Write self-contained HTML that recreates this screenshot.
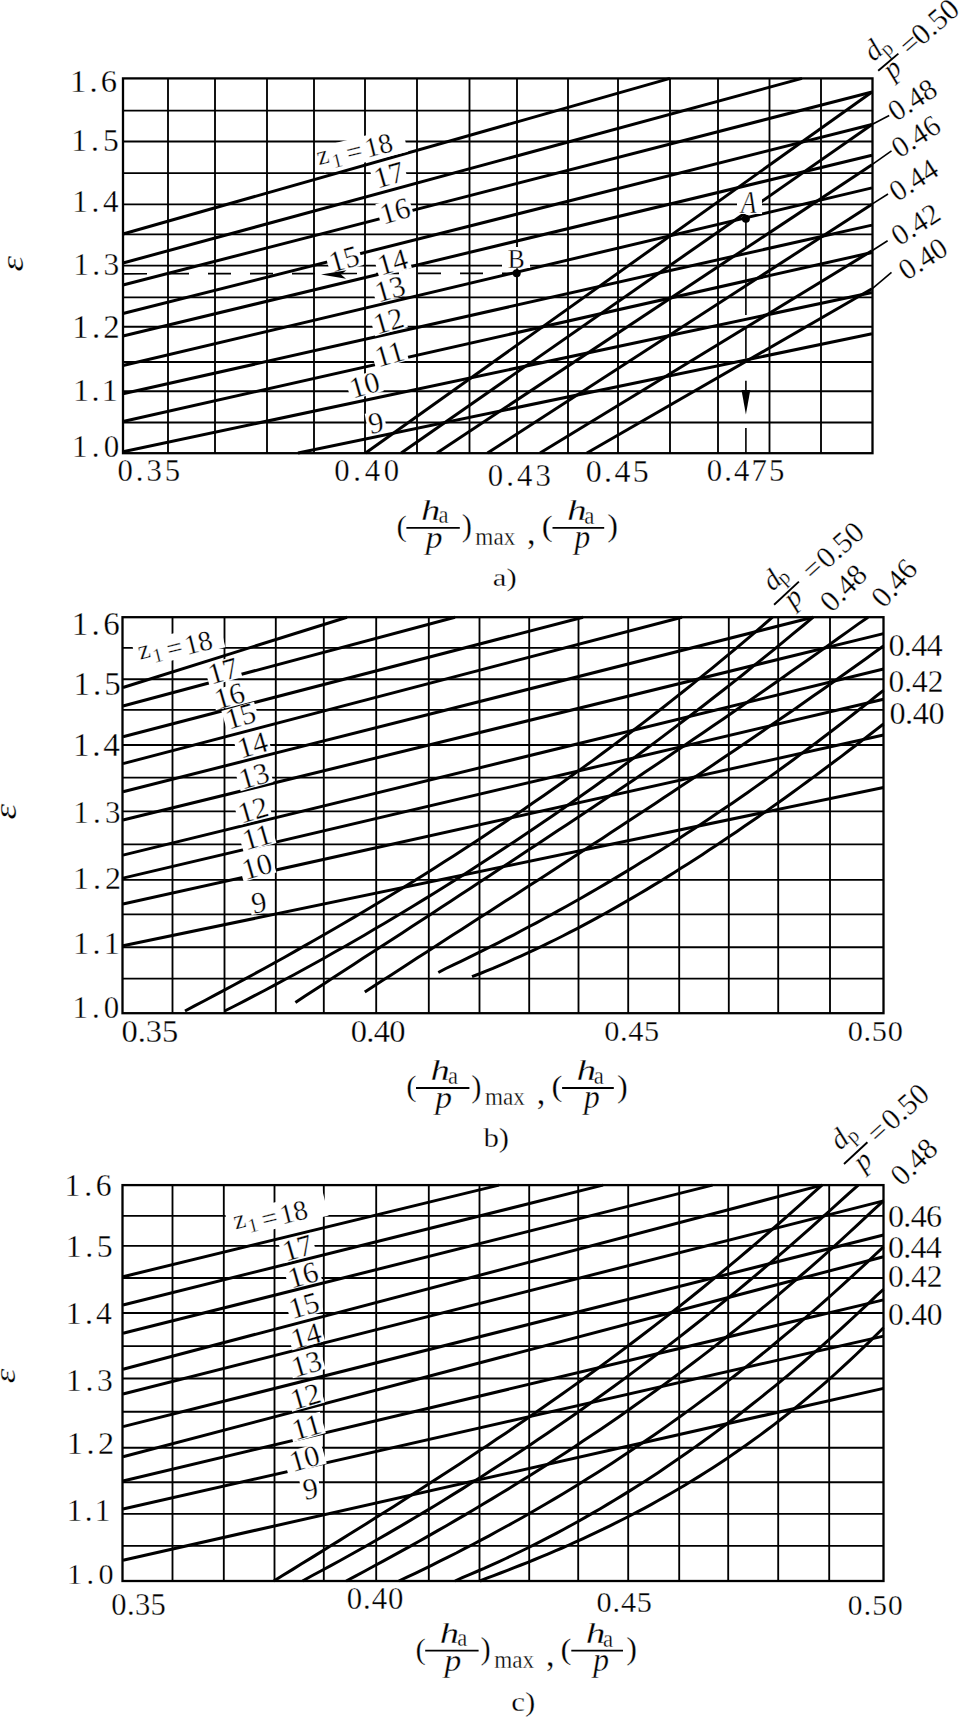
<!DOCTYPE html><html><head><meta charset="utf-8"><style>html,body{margin:0;padding:0;background:#fff;width:960px;height:1721px;overflow:hidden}svg{display:block}text{font-family:"Liberation Serif",serif;fill:#000;stroke:#fff;stroke-width:0.3px;vector-effect:non-scaling-stroke}</style></head><body>
<svg width="960" height="1721" viewBox="0 0 960 1721">
<rect width="960" height="1721" fill="#fff"/>
<g stroke="#000" stroke-width="1.85"><line x1="168.0" y1="78.4" x2="168.0" y2="453.2"/><line x1="215.0" y1="78.4" x2="215.0" y2="453.2"/><line x1="267.0" y1="78.4" x2="267.0" y2="453.2"/><line x1="314.0" y1="78.4" x2="314.0" y2="453.2"/><line x1="365.0" y1="78.4" x2="365.0" y2="453.2"/><line x1="417.0" y1="78.4" x2="417.0" y2="453.2"/><line x1="469.5" y1="78.4" x2="469.5" y2="453.2"/><line x1="517.0" y1="78.4" x2="517.0" y2="453.2"/><line x1="568.0" y1="78.4" x2="568.0" y2="453.2"/><line x1="618.0" y1="78.4" x2="618.0" y2="453.2"/><line x1="670.0" y1="78.4" x2="670.0" y2="453.2"/><line x1="718.0" y1="78.4" x2="718.0" y2="453.2"/><line x1="769.5" y1="78.4" x2="769.5" y2="453.2"/><line x1="821.0" y1="78.4" x2="821.0" y2="453.2"/><line x1="123.0" y1="110.6" x2="872.5" y2="110.6"/><line x1="123.0" y1="141.5" x2="872.5" y2="141.5"/><line x1="123.0" y1="173.1" x2="872.5" y2="173.1"/><line x1="123.0" y1="204.4" x2="872.5" y2="204.4"/><line x1="123.0" y1="234.4" x2="872.5" y2="234.4"/><line x1="123.0" y1="265.6" x2="872.5" y2="265.6"/><line x1="123.0" y1="297.3" x2="872.5" y2="297.3"/><line x1="123.0" y1="326.7" x2="872.5" y2="326.7"/><line x1="123.0" y1="362.0" x2="872.5" y2="362.0"/><line x1="123.0" y1="391.2" x2="872.5" y2="391.2"/><line x1="123.0" y1="422.5" x2="872.5" y2="422.5"/></g>
<rect x="123.0" y="78.4" width="749.5" height="374.8" fill="none" stroke="#000" stroke-width="2.30"/>
<line x1="124" y1="273.8" x2="517" y2="273.3" stroke="#000" stroke-width="1.7" stroke-dasharray="23,19"/>
<g stroke="#000" stroke-width="3.00" fill="none" stroke-linecap="butt"><path d="M123.0,234.0 L670.0,78.4"/><path d="M123.0,263.0 L802.0,78.4"/><path d="M123.0,285.0 L872.0,92.0"/><path d="M123.0,313.5 L872.0,124.5"/><path d="M123.0,336.0 L872.0,155.3"/><path d="M123.0,365.5 L872.0,187.9"/><path d="M123.0,393.8 L872.0,225.1"/><path d="M123.0,421.5 L872.0,252.5"/><path d="M123.0,451.7 L872.0,292.5"/><path d="M298.0,453.0 L872.0,333.8"/></g>
<g stroke="#000" stroke-width="3.00" fill="none" stroke-linecap="butt"><path d="M365.6,453.0 L872.0,92.0"/><path d="M401.2,453.0 L872.0,124.5"/><path d="M436.9,453.0 L872.0,164.7"/><path d="M487.5,453.0 L872.0,204.2"/><path d="M540.0,453.0 L872.0,250.7"/><path d="M586.9,453.0 L872.0,288.8"/></g>
<rect x="-43.0" y="-13.0" width="86.0" height="26.0" fill="#fff" transform="translate(363.1 149.5) rotate(-14.0)"/>
<text transform="translate(323.10 157.80) rotate(-14.00)" x="-5.94" y="6.21" font-size="27.00">z</text>
<text transform="translate(337.50 160.60) rotate(-14.00)" x="-5.30" y="6.60" font-size="20.00">1</text>
<text transform="translate(354.10 151.60) rotate(-14.00)" x="-7.91" y="9.24" font-size="28.00">=</text>
<text transform="translate(379.20 145.20) rotate(-14.00)" x="-14.70" y="9.17" font-size="28.00">18</text>
<rect x="-17.0" y="-12.0" width="34.0" height="24.0" fill="#fff" transform="translate(389.0 175.0) rotate(-16.0)"/>
<text transform="translate(389.0 175.0) rotate(-16.0)" font-size="30.0" text-anchor="middle" y="9.9">17</text>
<rect x="-17.0" y="-12.0" width="34.0" height="24.0" fill="#fff" transform="translate(395.0 211.0) rotate(-16.0)"/>
<text transform="translate(395.0 211.0) rotate(-16.0)" font-size="30.0" text-anchor="middle" y="9.9">16</text>
<rect x="-17.0" y="-11.0" width="34.0" height="22.0" fill="#fff" transform="translate(344.0 259.0) rotate(-16.0)"/>
<text transform="translate(344.0 259.0) rotate(-16.0)" font-size="30.0" text-anchor="middle" y="9.9">15</text>
<rect x="-17.0" y="-11.0" width="34.0" height="22.0" fill="#fff" transform="translate(392.5 262.0) rotate(-16.0)"/>
<text transform="translate(392.5 262.0) rotate(-16.0)" font-size="30.0" text-anchor="middle" y="9.9">14</text>
<rect x="-17.0" y="-10.0" width="34.0" height="20.0" fill="#fff" transform="translate(390.0 289.0) rotate(-16.0)"/>
<text transform="translate(390.0 289.0) rotate(-16.0)" font-size="30.0" text-anchor="middle" y="9.9">13</text>
<rect x="-17.0" y="-11.0" width="34.0" height="22.0" fill="#fff" transform="translate(388.5 321.0) rotate(-16.0)"/>
<text transform="translate(388.5 321.0) rotate(-16.0)" font-size="30.0" text-anchor="middle" y="9.9">12</text>
<rect x="-17.0" y="-11.0" width="34.0" height="22.0" fill="#fff" transform="translate(389.5 354.0) rotate(-16.0)"/>
<text transform="translate(389.5 354.0) rotate(-16.0)" font-size="30.0" text-anchor="middle" y="9.9">11</text>
<rect x="-17.0" y="-11.0" width="34.0" height="22.0" fill="#fff" transform="translate(364.4 385.0) rotate(-16.0)"/>
<text transform="translate(364.4 385.0) rotate(-16.0)" font-size="30.0" text-anchor="middle" y="9.9">10</text>
<rect x="-9.5" y="-11.0" width="19.0" height="22.0" fill="#fff" transform="translate(376.0 423.0) rotate(-10.0)"/>
<text transform="translate(376.0 423.0) rotate(-10.0)" font-size="30.0" text-anchor="middle" y="9.9">9</text>
<circle cx="516.7" cy="273.3" r="4" fill="#000"/>
<circle cx="745.9" cy="218.8" r="4" fill="#000"/>
<rect x="502" y="247" width="28" height="21" fill="#fff"/>
<rect x="737" y="190" width="25" height="24" fill="#fff"/>
<text transform="matrix(0.2542 0 0 0.2682 507.74 267.87)" font-size="100" >B</text>
<text transform="matrix(0.2507 0 0 0.3076 740.88 212.90)" font-size="100" font-style="italic" >A</text>
<line x1="745.9" y1="218.8" x2="745.9" y2="247.5" stroke="#000" stroke-width="1.6"/>
<line x1="745.9" y1="257.6" x2="745.9" y2="315.0" stroke="#000" stroke-width="1.6"/>
<line x1="745.9" y1="328.4" x2="745.9" y2="358.8" stroke="#000" stroke-width="1.6"/>
<line x1="745.9" y1="380.7" x2="745.9" y2="400.0" stroke="#000" stroke-width="1.6"/>
<line x1="745.9" y1="428.0" x2="745.9" y2="453.0" stroke="#000" stroke-width="1.6"/>
<path d="M741.5,390 L750.3,390 L745.9,414.4 Z" fill="#000"/>
<path d="M321,274.4 L346.5,270.3 L341,274.4 L346,278.8 Z" fill="#000"/>
<text transform="translate(872.80 49.75) rotate(-41.00)" x="-7.69" y="9.93" font-size="29.00" font-style="italic">d</text>
<text transform="translate(889.00 52.00) rotate(-41.00)" x="-4.99" y="2.68" font-size="21.00">p</text>
<line x1="878.2" y1="70.8" x2="898.4" y2="53.6" stroke="#000" stroke-width="1.9"/>
<text transform="translate(894.60 73.50) rotate(-41.00)" x="-5.94" y="3.70" font-size="29.00" font-style="italic">p</text>
<text transform="translate(910.00 44.00) rotate(-41.00)" x="-8.48" y="9.90" font-size="30.00">=</text>
<text transform="translate(935.20 21.80) rotate(-41.00)" x="-26.25" y="9.75" font-size="30.00">0.50</text>
<text transform="translate(912.50 100.00) rotate(-33.00)" x="-25.81" y="9.59" font-size="29.50">0.48</text>
<line x1="872.0" y1="124.5" x2="889.2" y2="115.5" stroke="#000" stroke-width="1.6"/>
<text transform="translate(916.00 136.50) rotate(-33.00)" x="-25.96" y="9.59" font-size="29.50">0.46</text>
<line x1="872.0" y1="164.7" x2="891.5" y2="150.8" stroke="#000" stroke-width="1.6"/>
<text transform="translate(914.00 180.00) rotate(-33.00)" x="-26.18" y="9.59" font-size="29.50">0.44</text>
<line x1="872.0" y1="204.2" x2="888.0" y2="194.0" stroke="#000" stroke-width="1.6"/>
<text transform="translate(915.60 224.50) rotate(-33.00)" x="-25.59" y="9.59" font-size="29.50">0.42</text>
<line x1="872.0" y1="250.7" x2="887.6" y2="240.8" stroke="#000" stroke-width="1.6"/>
<text transform="translate(923.00 259.00) rotate(-33.00)" x="-25.81" y="9.59" font-size="29.50">0.40</text>
<line x1="872.0" y1="288.8" x2="891.5" y2="272.3" stroke="#000" stroke-width="1.6"/>
<text x="70.1" y="91.5" font-size="32.59" letter-spacing="3.09" >1.6</text>
<text x="71.2" y="151.4" font-size="31.56" letter-spacing="4.08" >1.5</text>
<text x="72.2" y="211.5" font-size="31.11" letter-spacing="3.69" >1.4</text>
<text x="73.2" y="274.5" font-size="31.41" letter-spacing="3.41" >1.3</text>
<text x="72.3" y="337.5" font-size="32.89" letter-spacing="3.18" >1.2</text>
<text x="73.1" y="400.9" font-size="32.15" letter-spacing="2.32" >1.1</text>
<text x="71.9" y="457.2" font-size="31.03" letter-spacing="4.27" >1.0</text>
<text x="117.5" y="481.2" font-size="30.74" letter-spacing="2.97" >0.35</text>
<text x="334.2" y="481.2" font-size="30.74" letter-spacing="3.72" >0.40</text>
<text x="487.8" y="486.2" font-size="30.74" letter-spacing="3.09" >0.43</text>
<text x="585.7" y="482.0" font-size="31.91" letter-spacing="2.40" >0.45</text>
<text x="706.8" y="481.2" font-size="30.74" letter-spacing="2.08" >0.475</text>
<text transform="matrix(0 -0.3973 0.3188 0 22.78 271.39)" font-size="100" font-style="italic">ε</text>
<text transform="matrix(0.3098 0 0 0.3033 396.61 536.28)" font-size="100" >(</text>
<text transform="matrix(0.3859 0 0 0.2964 420.95 519.80)" font-size="100" font-style="italic" >h</text>
<text transform="matrix(0.2253 0 0 0.2437 438.51 523.36)" font-size="100" >a</text>
<text transform="matrix(0.3358 0 0 0.3080 425.72 547.88)" font-size="100" font-style="italic" >p</text>
<text transform="matrix(0.3077 0 0 0.3067 461.68 536.36)" font-size="100" >)</text>
<text transform="matrix(0.2320 0 0 0.2604 475.34 544.74)" font-size="100" >max</text>
<text transform="matrix(0.3448 0 0 0.3529 527.12 543.51)" font-size="100" >,</text>
<text transform="matrix(0.3294 0 0 0.3033 541.82 536.28)" font-size="100" >(</text>
<text transform="matrix(0.3929 0 0 0.2878 566.92 520.00)" font-size="100" font-style="italic" >h</text>
<text transform="matrix(0.2278 0 0 0.2458 584.20 524.05)" font-size="100" >a</text>
<text transform="matrix(0.3151 0 0 0.3285 574.39 548.24)" font-size="100" font-style="italic" >p</text>
<text transform="matrix(0.3231 0 0 0.3067 607.33 536.36)" font-size="100" >)</text>
<line x1="406.4" y1="527.8" x2="459.8" y2="527.8" stroke="#000" stroke-width="1.8"/>
<line x1="552.5" y1="527.8" x2="604.2" y2="527.8" stroke="#000" stroke-width="1.8"/>
<text transform="matrix(0.3086 0 0 0.2567 492.72 586.21)" font-size="100" >a)</text>
<g stroke="#000" stroke-width="1.85"><line x1="172.5" y1="617.2" x2="172.5" y2="1013.3"/><line x1="224.5" y1="617.2" x2="224.5" y2="1013.3"/><line x1="275.8" y1="617.2" x2="275.8" y2="1013.3"/><line x1="323.8" y1="617.2" x2="323.8" y2="1013.3"/><line x1="376.2" y1="617.2" x2="376.2" y2="1013.3"/><line x1="428.8" y1="617.2" x2="428.8" y2="1013.3"/><line x1="479.5" y1="617.2" x2="479.5" y2="1013.3"/><line x1="529.2" y1="617.2" x2="529.2" y2="1013.3"/><line x1="578.5" y1="617.2" x2="578.5" y2="1013.3"/><line x1="628.2" y1="617.2" x2="628.2" y2="1013.3"/><line x1="679.2" y1="617.2" x2="679.2" y2="1013.3"/><line x1="728.8" y1="617.2" x2="728.8" y2="1013.3"/><line x1="778.2" y1="617.2" x2="778.2" y2="1013.3"/><line x1="830.0" y1="617.2" x2="830.0" y2="1013.3"/><line x1="122.5" y1="647.9" x2="883.5" y2="647.9"/><line x1="122.5" y1="679.2" x2="883.5" y2="679.2"/><line x1="122.5" y1="709.9" x2="883.5" y2="709.9"/><line x1="122.5" y1="745.0" x2="883.5" y2="745.0"/><line x1="122.5" y1="777.6" x2="883.5" y2="777.6"/><line x1="122.5" y1="811.3" x2="883.5" y2="811.3"/><line x1="122.5" y1="844.4" x2="883.5" y2="844.4"/><line x1="122.5" y1="879.8" x2="883.5" y2="879.8"/><line x1="122.5" y1="914.4" x2="883.5" y2="914.4"/><line x1="122.5" y1="947.2" x2="883.5" y2="947.2"/><line x1="122.5" y1="978.6" x2="883.5" y2="978.6"/></g>
<rect x="122.5" y="617.2" width="761.0" height="396.0" fill="none" stroke="#000" stroke-width="2.30"/>
<g stroke="#000" stroke-width="3.00" fill="none" stroke-linecap="butt"><path d="M123.0,687.5 L347.0,617.2"/><path d="M123.0,706.0 L455.0,617.2"/><path d="M123.0,736.7 L583.0,617.2"/><path d="M123.0,763.6 L682.0,617.2"/><path d="M123.0,791.7 L813.0,617.2"/><path d="M123.0,820.0 L883.5,633.6"/><path d="M123.0,855.1 L883.5,669.0"/><path d="M123.0,878.1 L883.5,699.2"/><path d="M123.0,904.0 L883.5,735.0"/><path d="M123.0,945.8 L883.5,787.5"/></g>
<g stroke="#000" stroke-width="3.00" fill="none" stroke-linejoin="round"><path d="M185.0,1011.0 L195.0,1005.7 L204.9,1000.5 L214.9,995.2 L224.8,989.9 L234.8,984.5 L244.7,979.1 L254.7,973.7 L264.7,968.2 L274.6,962.7 L284.6,957.2 L294.5,951.6 L304.5,945.9 L314.4,940.3 L324.4,934.5 L334.4,928.8 L344.3,923.0 L354.3,917.1 L364.2,911.2 L374.2,905.2 L384.2,899.2 L394.1,893.2 L404.1,887.1 L414.0,880.9 L424.0,874.7 L433.9,868.4 L443.9,862.1 L453.9,855.7 L463.8,849.3 L473.8,842.8 L483.7,836.2 L493.7,829.6 L503.6,823.0 L513.6,816.2 L523.6,809.4 L533.5,802.6 L543.5,795.7 L553.4,788.7 L563.4,781.7 L573.3,774.5 L583.3,767.4 L593.3,760.1 L603.2,752.8 L613.2,745.4 L623.1,738.0 L633.1,730.5 L643.1,722.9 L653.0,715.2 L663.0,707.5 L672.9,699.6 L682.9,691.7 L692.8,683.8 L702.8,675.7 L712.8,667.6 L722.7,659.4 L732.7,651.1 L742.6,642.8 L752.6,634.3 L762.5,625.8 L772.5,617.2"/><path d="M224.6,1011.0 L234.6,1006.0 L244.6,1000.9 L254.5,995.7 L264.5,990.5 L274.5,985.2 L284.5,979.8 L294.4,974.5 L304.4,969.0 L314.4,963.5 L324.4,958.0 L334.3,952.3 L344.3,946.7 L354.3,941.0 L364.3,935.2 L374.2,929.3 L384.2,923.5 L394.2,917.5 L404.2,911.5 L414.1,905.5 L424.1,899.4 L434.1,893.2 L444.1,887.0 L454.1,880.7 L464.0,874.4 L474.0,868.0 L484.0,861.5 L494.0,855.0 L503.9,848.5 L513.9,841.9 L523.9,835.2 L533.9,828.5 L543.8,821.7 L553.8,814.9 L563.8,808.0 L573.8,801.0 L583.7,794.0 L593.7,787.0 L603.7,779.8 L613.7,772.7 L623.7,765.4 L633.6,758.1 L643.6,750.8 L653.6,743.4 L663.6,735.9 L673.5,728.4 L683.5,720.8 L693.5,713.2 L703.5,705.5 L713.4,697.8 L723.4,690.0 L733.4,682.1 L743.4,674.2 L753.3,666.2 L763.3,658.2 L773.3,650.1 L783.3,641.9 L793.2,633.7 L803.2,625.5 L813.2,617.2"/><path d="M295.4,1002.5 L305.1,996.0 L314.8,989.7 L324.5,983.4 L334.2,977.1 L343.9,970.8 L353.6,964.5 L363.3,958.1 L373.1,951.8 L382.8,945.5 L392.5,939.2 L402.2,932.9 L411.9,926.5 L421.6,920.2 L431.3,913.9 L441.0,907.5 L450.7,901.2 L460.4,894.8 L470.1,888.4 L479.8,882.1 L489.5,875.7 L499.2,869.3 L508.9,862.9 L518.7,856.5 L528.4,850.1 L538.1,843.7 L547.8,837.2 L557.5,830.8 L567.2,824.4 L576.9,817.9 L586.6,811.4 L596.3,804.9 L606.0,798.4 L615.7,791.9 L625.4,785.4 L635.1,778.9 L644.8,772.3 L654.6,765.8 L664.3,759.2 L674.0,752.6 L683.7,746.0 L693.4,739.3 L703.1,732.7 L712.8,726.1 L722.5,719.4 L732.2,712.7 L741.9,706.0 L751.6,699.2 L761.3,692.5 L771.0,685.7 L780.7,678.9 L790.4,672.1 L800.2,665.3 L809.9,658.5 L819.6,651.6 L829.3,644.7 L839.0,637.8 L848.7,630.9 L858.4,623.9 L868.1,617.2"/><path d="M364.8,992.0 L373.6,986.3 L382.4,980.6 L391.2,974.9 L400.0,969.2 L408.8,963.5 L417.5,957.8 L426.3,952.2 L435.1,946.5 L443.9,940.8 L452.7,935.1 L461.5,929.5 L470.3,923.8 L479.1,918.1 L487.9,912.5 L496.7,906.8 L505.5,901.1 L514.3,895.4 L523.0,889.8 L531.8,884.1 L540.6,878.4 L549.4,872.7 L558.2,867.0 L567.0,861.3 L575.8,855.6 L584.6,849.8 L593.4,844.1 L602.2,838.4 L611.0,832.6 L619.8,826.8 L628.5,821.1 L637.3,815.3 L646.1,809.5 L654.9,803.7 L663.7,797.8 L672.5,792.0 L681.3,786.1 L690.1,780.3 L698.9,774.4 L707.7,768.5 L716.5,762.6 L725.3,756.6 L734.0,750.7 L742.8,744.7 L751.6,738.7 L760.4,732.7 L769.2,726.6 L778.0,720.6 L786.8,714.5 L795.6,708.4 L804.4,702.3 L813.2,696.1 L822.0,689.9 L830.8,683.7 L839.5,677.5 L848.3,671.3 L857.1,665.0 L865.9,658.7 L874.7,652.3 L883.5,646.0"/><path d="M438.3,972.5 L445.8,968.5 L453.4,964.9 L460.9,961.3 L468.5,957.6 L476.0,953.9 L483.6,950.2 L491.1,946.4 L498.7,942.6 L506.2,938.7 L513.8,934.8 L521.3,930.8 L528.8,926.8 L536.4,922.8 L543.9,918.7 L551.5,914.6 L559.0,910.4 L566.6,906.2 L574.1,902.0 L581.7,897.7 L589.2,893.4 L596.8,889.0 L604.3,884.6 L611.9,880.1 L619.4,875.6 L626.9,871.1 L634.5,866.5 L642.0,861.8 L649.6,857.2 L657.1,852.5 L664.7,847.7 L672.2,842.9 L679.8,838.0 L687.3,833.1 L694.9,828.2 L702.4,823.2 L709.9,818.2 L717.5,813.1 L725.0,808.0 L732.6,802.9 L740.1,797.7 L747.7,792.4 L755.2,787.1 L762.8,781.8 L770.3,776.4 L777.9,771.0 L785.4,765.5 L793.0,760.0 L800.5,754.4 L808.0,748.8 L815.6,743.2 L823.1,737.5 L830.7,731.7 L838.2,726.0 L845.8,720.1 L853.3,714.2 L860.9,708.3 L868.4,702.3 L876.0,696.3 L883.5,690.3"/><path d="M472.0,976.7 L479.0,974.0 L485.9,971.1 L492.9,968.3 L499.9,965.3 L506.9,962.3 L513.8,959.2 L520.8,956.1 L527.8,952.9 L534.8,949.7 L541.7,946.3 L548.7,942.9 L555.7,939.5 L562.7,936.0 L569.6,932.4 L576.6,928.8 L583.6,925.1 L590.6,921.4 L597.5,917.6 L604.5,913.8 L611.5,909.9 L618.5,905.9 L625.4,901.9 L632.4,897.9 L639.4,893.8 L646.4,889.6 L653.3,885.4 L660.3,881.2 L667.3,876.9 L674.3,872.5 L681.2,868.1 L688.2,863.7 L695.2,859.2 L702.2,854.7 L709.1,850.1 L716.1,845.5 L723.1,840.8 L730.1,836.1 L737.0,831.4 L744.0,826.6 L751.0,821.8 L758.0,817.0 L764.9,812.1 L771.9,807.1 L778.9,802.2 L785.9,797.2 L792.8,792.2 L799.8,787.1 L806.8,782.0 L813.8,776.9 L820.7,771.7 L827.7,766.5 L834.7,761.3 L841.7,756.1 L848.6,750.8 L855.6,745.5 L862.6,740.1 L869.6,734.8 L876.5,729.4 L883.5,724.0"/></g>
<rect x="-45.0" y="-13.0" width="90.0" height="26.0" fill="#fff" transform="translate(178.6 645.5) rotate(-14.0)"/>
<text transform="translate(144.25 652.30) rotate(-14.00)" x="-5.94" y="6.21" font-size="27.00">z</text>
<text transform="translate(158.00 655.40) rotate(-14.00)" x="-5.30" y="6.60" font-size="20.00">1</text>
<text transform="translate(174.40 647.85) rotate(-14.00)" x="-7.91" y="9.24" font-size="28.00">=</text>
<text transform="translate(199.00 642.65) rotate(-14.00)" x="-14.70" y="9.17" font-size="28.00">18</text>
<rect x="-17.0" y="-11.0" width="34.0" height="22.0" fill="#fff" transform="translate(223.0 671.0) rotate(-16.0)"/>
<text transform="translate(223.0 671.0) rotate(-16.0)" font-size="30.0" text-anchor="middle" y="9.9">17</text>
<rect x="-17.0" y="-10.0" width="34.0" height="20.0" fill="#fff" transform="translate(229.5 696.0) rotate(-16.0)"/>
<text transform="translate(229.5 696.0) rotate(-16.0)" font-size="30.0" text-anchor="middle" y="9.9">16</text>
<rect x="-17.0" y="-10.0" width="34.0" height="20.0" fill="#fff" transform="translate(240.5 716.0) rotate(-16.0)"/>
<text transform="translate(240.5 716.0) rotate(-16.0)" font-size="30.0" text-anchor="middle" y="9.9">15</text>
<rect x="-17.0" y="-11.0" width="34.0" height="22.0" fill="#fff" transform="translate(252.5 745.0) rotate(-16.0)"/>
<text transform="translate(252.5 745.0) rotate(-16.0)" font-size="30.0" text-anchor="middle" y="9.9">14</text>
<rect x="-17.0" y="-11.0" width="34.0" height="22.0" fill="#fff" transform="translate(254.0 776.0) rotate(-16.0)"/>
<text transform="translate(254.0 776.0) rotate(-16.0)" font-size="30.0" text-anchor="middle" y="9.9">13</text>
<rect x="-17.0" y="-11.0" width="34.0" height="22.0" fill="#fff" transform="translate(253.0 810.0) rotate(-16.0)"/>
<text transform="translate(253.0 810.0) rotate(-16.0)" font-size="30.0" text-anchor="middle" y="9.9">12</text>
<rect x="-17.0" y="-11.0" width="34.0" height="22.0" fill="#fff" transform="translate(257.0 837.0) rotate(-16.0)"/>
<text transform="translate(257.0 837.0) rotate(-16.0)" font-size="30.0" text-anchor="middle" y="9.9">11</text>
<rect x="-17.0" y="-11.0" width="34.0" height="22.0" fill="#fff" transform="translate(257.0 866.5) rotate(-16.0)"/>
<text transform="translate(257.0 866.5) rotate(-16.0)" font-size="30.0" text-anchor="middle" y="9.9">10</text>
<rect x="-9.5" y="-11.0" width="19.0" height="22.0" fill="#fff" transform="translate(259.0 902.6) rotate(-10.0)"/>
<text transform="translate(259.0 902.6) rotate(-10.0)" font-size="30.0" text-anchor="middle" y="9.9">9</text>
<text transform="translate(771.50 579.50) rotate(-42.00)" x="-7.69" y="9.93" font-size="29.00" font-style="italic">d</text>
<text transform="translate(786.00 580.50) rotate(-42.00)" x="-4.99" y="2.68" font-size="21.00">p</text>
<line x1="774.1" y1="604.8" x2="798.9" y2="581.6" stroke="#000" stroke-width="1.9"/>
<text transform="translate(795.50 602.30) rotate(-42.00)" x="-5.94" y="3.70" font-size="29.00" font-style="italic">p</text>
<text transform="translate(812.70 568.70) rotate(-42.00)" x="-8.48" y="9.90" font-size="30.00">=</text>
<text transform="translate(840.00 545.00) rotate(-42.00)" x="-26.25" y="9.75" font-size="30.00">0.50</text>
<text transform="translate(843.40 588.00) rotate(-45.00)" x="-26.25" y="9.75" font-size="30.00">0.48</text>
<text transform="translate(894.40 583.10) rotate(-48.00)" x="-26.40" y="9.75" font-size="30.00">0.46</text>
<text x="71.7" y="634.6" font-size="33.04" letter-spacing="3.38" >1.6</text>
<text x="73.6" y="695.3" font-size="33.04" letter-spacing="2.90" >1.5</text>
<text x="73.0" y="755.5" font-size="33.33" letter-spacing="2.62" >1.4</text>
<text x="73.2" y="823.2" font-size="30.96" letter-spacing="4.31" >1.3</text>
<text x="73.1" y="888.8" font-size="32.00" letter-spacing="3.97" >1.2</text>
<text x="73.1" y="953.7" font-size="32.15" letter-spacing="3.32" >1.1</text>
<text x="72.5" y="1017.9" font-size="30.88" letter-spacing="4.06" >1.0</text>
<text x="121.6" y="1042.0" font-size="32.50" letter-spacing="-0.06" >0.35</text>
<text x="350.7" y="1042.0" font-size="32.50" letter-spacing="-0.69" >0.40</text>
<text x="604.3" y="1040.7" font-size="30.29" letter-spacing="0.64" >0.45</text>
<text x="847.8" y="1040.7" font-size="30.29" letter-spacing="0.67" >0.50</text>
<text x="888.4" y="655.5" font-size="32.35" letter-spacing="-0.75" >0.44</text>
<text x="888.4" y="691.9" font-size="31.47" letter-spacing="0.01" >0.42</text>
<text x="889.4" y="723.7" font-size="32.21" letter-spacing="-0.39" >0.40</text>
<text transform="matrix(0 -0.3986 0.3125 0 15.59 819.55)" font-size="100" font-style="italic">ε</text>
<text transform="matrix(0.3098 0 0 0.3033 406.21 1096.48)" font-size="100" >(</text>
<text transform="matrix(0.3859 0 0 0.2964 430.55 1080.00)" font-size="100" font-style="italic" >h</text>
<text transform="matrix(0.2253 0 0 0.2438 448.11 1083.56)" font-size="100" >a</text>
<text transform="matrix(0.3358 0 0 0.3080 435.32 1108.08)" font-size="100" font-style="italic" >p</text>
<text transform="matrix(0.3077 0 0 0.3067 471.28 1096.56)" font-size="100" >)</text>
<text transform="matrix(0.2320 0 0 0.2604 484.94 1104.94)" font-size="100" >max</text>
<text transform="matrix(0.3448 0 0 0.3529 536.72 1103.71)" font-size="100" >,</text>
<text transform="matrix(0.3294 0 0 0.3033 551.42 1096.48)" font-size="100" >(</text>
<text transform="matrix(0.3929 0 0 0.2878 576.52 1080.20)" font-size="100" font-style="italic" >h</text>
<text transform="matrix(0.2278 0 0 0.2458 593.80 1084.25)" font-size="100" >a</text>
<text transform="matrix(0.3151 0 0 0.3285 583.99 1108.44)" font-size="100" font-style="italic" >p</text>
<text transform="matrix(0.3231 0 0 0.3067 616.93 1096.56)" font-size="100" >)</text>
<line x1="416.0" y1="1088.0" x2="469.4" y2="1088.0" stroke="#000" stroke-width="1.8"/>
<line x1="562.1" y1="1088.0" x2="613.8" y2="1088.0" stroke="#000" stroke-width="1.8"/>
<text transform="matrix(0.3089 0 0 0.2707 483.40 1147.31)" font-size="100" >b)</text>
<g stroke="#000" stroke-width="1.85"><line x1="172.5" y1="1185.1" x2="172.5" y2="1581.0"/><line x1="223.8" y1="1185.1" x2="223.8" y2="1581.0"/><line x1="274.5" y1="1185.1" x2="274.5" y2="1581.0"/><line x1="323.8" y1="1185.1" x2="323.8" y2="1581.0"/><line x1="376.2" y1="1185.1" x2="376.2" y2="1581.0"/><line x1="428.8" y1="1185.1" x2="428.8" y2="1581.0"/><line x1="479.5" y1="1185.1" x2="479.5" y2="1581.0"/><line x1="529.2" y1="1185.1" x2="529.2" y2="1581.0"/><line x1="578.2" y1="1185.1" x2="578.2" y2="1581.0"/><line x1="628.2" y1="1185.1" x2="628.2" y2="1581.0"/><line x1="679.2" y1="1185.1" x2="679.2" y2="1581.0"/><line x1="728.2" y1="1185.1" x2="728.2" y2="1581.0"/><line x1="778.2" y1="1185.1" x2="778.2" y2="1581.0"/><line x1="829.2" y1="1185.1" x2="829.2" y2="1581.0"/><line x1="122.5" y1="1215.8" x2="883.5" y2="1215.8"/><line x1="122.5" y1="1245.9" x2="883.5" y2="1245.9"/><line x1="122.5" y1="1278.0" x2="883.5" y2="1278.0"/><line x1="122.5" y1="1313.0" x2="883.5" y2="1313.0"/><line x1="122.5" y1="1346.1" x2="883.5" y2="1346.1"/><line x1="122.5" y1="1378.5" x2="883.5" y2="1378.5"/><line x1="122.5" y1="1411.7" x2="883.5" y2="1411.7"/><line x1="122.5" y1="1447.7" x2="883.5" y2="1447.7"/><line x1="122.5" y1="1482.2" x2="883.5" y2="1482.2"/><line x1="122.5" y1="1513.9" x2="883.5" y2="1513.9"/><line x1="122.5" y1="1545.9" x2="883.5" y2="1545.9"/></g>
<rect x="122.5" y="1185.1" width="761.0" height="395.9" fill="none" stroke="#000" stroke-width="2.30"/>
<g stroke="#000" stroke-width="3.00" fill="none" stroke-linecap="butt"><path d="M123.0,1276.7 L499.0,1185.1"/><path d="M123.0,1305.0 L603.0,1185.1"/><path d="M123.0,1333.3 L712.5,1185.1"/><path d="M123.0,1369.2 L822.0,1185.1"/><path d="M123.0,1394.0 L883.5,1200.9"/><path d="M123.0,1426.6 L883.5,1235.0"/><path d="M123.0,1456.7 L883.5,1256.7"/><path d="M123.0,1481.0 L883.5,1299.9"/><path d="M123.0,1509.0 L883.5,1336.1"/><path d="M123.0,1560.2 L883.5,1388.4"/></g>
<g stroke="#000" stroke-width="3.00" fill="none" stroke-linejoin="round"><path d="M273.8,1581.0 L283.0,1575.3 L292.3,1569.6 L301.6,1563.8 L310.9,1558.1 L320.2,1552.4 L329.5,1546.6 L338.8,1540.9 L348.1,1535.1 L357.4,1529.3 L366.7,1523.5 L376.0,1517.6 L385.3,1511.8 L394.6,1505.9 L403.8,1500.0 L413.1,1494.0 L422.4,1488.1 L431.7,1482.1 L441.0,1476.0 L450.3,1470.0 L459.6,1463.9 L468.9,1457.8 L478.2,1451.6 L487.5,1445.4 L496.8,1439.1 L506.1,1432.9 L515.4,1426.5 L524.6,1420.2 L533.9,1413.8 L543.2,1407.3 L552.5,1400.8 L561.8,1394.2 L571.1,1387.6 L580.4,1381.0 L589.7,1374.2 L599.0,1367.5 L608.3,1360.6 L617.6,1353.8 L626.9,1346.8 L636.2,1339.8 L645.4,1332.8 L654.7,1325.6 L664.0,1318.4 L673.3,1311.2 L682.6,1303.8 L691.9,1296.5 L701.2,1289.0 L710.5,1281.4 L719.8,1273.8 L729.1,1266.1 L738.4,1258.4 L747.7,1250.5 L757.0,1242.6 L766.2,1234.6 L775.5,1226.5 L784.8,1218.4 L794.1,1210.1 L803.4,1201.8 L812.7,1193.4 L822.0,1185.1"/><path d="M302.5,1581.0 L311.9,1575.8 L321.3,1570.8 L330.8,1565.6 L340.2,1560.5 L349.6,1555.3 L359.0,1550.0 L368.4,1544.7 L377.9,1539.3 L387.3,1533.9 L396.7,1528.4 L406.1,1522.9 L415.5,1517.3 L425.0,1511.6 L434.4,1506.0 L443.8,1500.2 L453.2,1494.4 L462.6,1488.6 L472.1,1482.6 L481.5,1476.7 L490.9,1470.6 L500.3,1464.6 L509.7,1458.4 L519.2,1452.2 L528.6,1445.9 L538.0,1439.6 L547.4,1433.2 L556.8,1426.8 L566.3,1420.3 L575.7,1413.7 L585.1,1407.1 L594.5,1400.3 L604.0,1393.6 L613.4,1386.8 L622.8,1379.9 L632.2,1372.9 L641.6,1365.9 L651.1,1358.8 L660.5,1351.6 L669.9,1344.4 L679.3,1337.1 L688.7,1329.7 L698.2,1322.3 L707.6,1314.8 L717.0,1307.2 L726.4,1299.5 L735.8,1291.8 L745.3,1284.0 L754.7,1276.1 L764.1,1268.2 L773.5,1260.2 L782.9,1252.1 L792.4,1243.9 L801.8,1235.7 L811.2,1227.3 L820.6,1218.9 L830.0,1210.5 L839.5,1201.9 L848.9,1193.3 L858.3,1185.1"/><path d="M346.2,1581.0 L355.4,1576.1 L364.5,1571.2 L373.6,1566.3 L382.7,1561.4 L391.8,1556.4 L400.9,1551.4 L410.0,1546.4 L419.1,1541.3 L428.2,1536.1 L437.3,1530.9 L446.4,1525.7 L455.5,1520.4 L464.6,1515.1 L473.7,1509.8 L482.8,1504.3 L491.9,1498.9 L501.1,1493.3 L510.2,1487.8 L519.3,1482.1 L528.4,1476.5 L537.5,1470.7 L546.6,1464.9 L555.7,1459.1 L564.8,1453.2 L573.9,1447.2 L583.0,1441.1 L592.1,1435.0 L601.2,1428.9 L610.3,1422.7 L619.4,1416.4 L628.5,1410.0 L637.6,1403.6 L646.7,1397.1 L655.9,1390.5 L665.0,1383.9 L674.1,1377.2 L683.2,1370.4 L692.3,1363.5 L701.4,1356.6 L710.5,1349.6 L719.6,1342.5 L728.7,1335.3 L737.8,1328.1 L746.9,1320.8 L756.0,1313.3 L765.1,1305.8 L774.2,1298.3 L783.3,1290.6 L792.4,1282.9 L801.5,1275.0 L810.7,1267.1 L819.8,1259.1 L828.9,1251.0 L838.0,1242.8 L847.1,1234.5 L856.2,1226.1 L865.3,1217.7 L874.4,1209.1 L883.5,1200.9"/><path d="M398.8,1581.0 L407.0,1577.2 L415.2,1573.3 L423.4,1569.3 L431.6,1565.3 L439.8,1561.2 L448.0,1557.1 L456.3,1553.0 L464.5,1548.7 L472.7,1544.5 L480.9,1540.1 L489.1,1535.8 L497.3,1531.3 L505.6,1526.8 L513.8,1522.3 L522.0,1517.7 L530.2,1513.0 L538.4,1508.2 L546.6,1503.5 L554.9,1498.6 L563.1,1493.7 L571.3,1488.7 L579.5,1483.7 L587.7,1478.6 L595.9,1473.4 L604.2,1468.2 L612.4,1462.9 L620.6,1457.5 L628.8,1452.1 L637.0,1446.6 L645.2,1441.0 L653.4,1435.4 L661.7,1429.7 L669.9,1423.9 L678.1,1418.0 L686.3,1412.1 L694.5,1406.1 L702.7,1400.0 L711.0,1393.9 L719.2,1387.7 L727.4,1381.4 L735.6,1375.0 L743.8,1368.6 L752.0,1362.1 L760.3,1355.5 L768.5,1348.8 L776.7,1342.0 L784.9,1335.2 L793.1,1328.3 L801.3,1321.3 L809.6,1314.2 L817.8,1307.1 L826.0,1299.8 L834.2,1292.5 L842.4,1285.1 L850.6,1277.6 L858.9,1270.0 L867.1,1262.3 L875.3,1254.5 L883.5,1246.9"/><path d="M455.0,1581.0 L462.3,1577.7 L469.5,1574.6 L476.8,1571.5 L484.1,1568.4 L491.3,1565.1 L498.6,1561.8 L505.8,1558.5 L513.1,1555.0 L520.4,1551.5 L527.6,1548.0 L534.9,1544.4 L542.2,1540.7 L549.4,1536.9 L556.7,1533.1 L563.9,1529.2 L571.2,1525.2 L578.5,1521.2 L585.7,1517.1 L593.0,1512.9 L600.3,1508.7 L607.5,1504.4 L614.8,1500.0 L622.0,1495.6 L629.3,1491.1 L636.6,1486.5 L643.8,1481.9 L651.1,1477.2 L658.4,1472.4 L665.6,1467.5 L672.9,1462.6 L680.1,1457.6 L687.4,1452.6 L694.7,1447.4 L701.9,1442.2 L709.2,1437.0 L716.5,1431.6 L723.7,1426.2 L731.0,1420.7 L738.2,1415.2 L745.5,1409.5 L752.8,1403.8 L760.0,1398.1 L767.3,1392.2 L774.6,1386.3 L781.8,1380.3 L789.1,1374.3 L796.3,1368.2 L803.6,1362.0 L810.9,1355.7 L818.1,1349.3 L825.4,1342.9 L832.7,1336.4 L839.9,1329.8 L847.2,1323.2 L854.4,1316.5 L861.7,1309.7 L869.0,1302.8 L876.2,1295.9 L883.5,1289.4"/><path d="M480.0,1581.0 L486.8,1578.2 L493.7,1575.6 L500.5,1573.0 L507.4,1570.4 L514.2,1567.7 L521.0,1565.0 L527.9,1562.3 L534.7,1559.5 L541.6,1556.7 L548.4,1553.8 L555.2,1550.9 L562.1,1548.0 L568.9,1545.0 L575.7,1541.9 L582.6,1538.8 L589.4,1535.6 L596.3,1532.4 L603.1,1529.2 L609.9,1525.8 L616.8,1522.4 L623.6,1519.0 L630.5,1515.5 L637.3,1511.9 L644.1,1508.3 L651.0,1504.6 L657.8,1500.8 L664.7,1496.9 L671.5,1493.0 L678.3,1489.0 L685.2,1485.0 L692.0,1480.8 L698.8,1476.6 L705.7,1472.3 L712.5,1467.9 L719.4,1463.4 L726.2,1458.9 L733.0,1454.3 L739.9,1449.5 L746.7,1444.7 L753.6,1439.8 L760.4,1434.9 L767.2,1429.8 L774.1,1424.6 L780.9,1419.3 L787.8,1413.9 L794.6,1408.5 L801.4,1402.9 L808.3,1397.2 L815.1,1391.4 L821.9,1385.6 L828.8,1379.6 L835.6,1373.5 L842.5,1367.2 L849.3,1360.9 L856.1,1354.5 L863.0,1347.9 L869.8,1341.3 L876.7,1334.5 L883.5,1327.7"/></g>
<rect x="-50.0" y="-13.0" width="100.0" height="26.0" fill="#fff" transform="translate(277.0 1215.1) rotate(-14.0)"/>
<text transform="translate(239.80 1222.00) rotate(-14.00)" x="-5.94" y="6.21" font-size="27.00">z</text>
<text transform="translate(253.30 1225.40) rotate(-14.00)" x="-5.30" y="6.60" font-size="20.00">1</text>
<text transform="translate(269.50 1218.10) rotate(-14.00)" x="-7.91" y="9.24" font-size="28.00">=</text>
<text transform="translate(294.20 1212.15) rotate(-14.00)" x="-14.70" y="9.17" font-size="28.00">18</text>
<rect x="-17.0" y="-11.0" width="34.0" height="22.0" fill="#fff" transform="translate(297.5 1248.0) rotate(-16.0)"/>
<text transform="translate(297.5 1248.0) rotate(-16.0)" font-size="30.0" text-anchor="middle" y="9.9">17</text>
<rect x="-17.0" y="-10.0" width="34.0" height="20.0" fill="#fff" transform="translate(303.0 1275.0) rotate(-16.0)"/>
<text transform="translate(303.0 1275.0) rotate(-16.0)" font-size="30.0" text-anchor="middle" y="9.9">16</text>
<rect x="-17.0" y="-11.0" width="34.0" height="22.0" fill="#fff" transform="translate(304.0 1305.5) rotate(-16.0)"/>
<text transform="translate(304.0 1305.5) rotate(-16.0)" font-size="30.0" text-anchor="middle" y="9.9">15</text>
<rect x="-17.0" y="-10.0" width="34.0" height="20.0" fill="#fff" transform="translate(306.0 1336.0) rotate(-16.0)"/>
<text transform="translate(306.0 1336.0) rotate(-16.0)" font-size="30.0" text-anchor="middle" y="9.9">14</text>
<rect x="-17.0" y="-10.0" width="34.0" height="20.0" fill="#fff" transform="translate(306.5 1364.0) rotate(-16.0)"/>
<text transform="translate(306.5 1364.0) rotate(-16.0)" font-size="30.0" text-anchor="middle" y="9.9">13</text>
<rect x="-17.0" y="-11.0" width="34.0" height="22.0" fill="#fff" transform="translate(305.4 1396.5) rotate(-16.0)"/>
<text transform="translate(305.4 1396.5) rotate(-16.0)" font-size="30.0" text-anchor="middle" y="9.9">12</text>
<rect x="-17.0" y="-11.0" width="34.0" height="22.0" fill="#fff" transform="translate(306.5 1427.0) rotate(-16.0)"/>
<text transform="translate(306.5 1427.0) rotate(-16.0)" font-size="30.0" text-anchor="middle" y="9.9">11</text>
<rect x="-20.0" y="-11.0" width="40.0" height="22.0" fill="#fff" transform="translate(304.5 1458.5) rotate(-16.0)"/>
<text transform="translate(304.5 1458.5) rotate(-16.0)" font-size="30.0" text-anchor="middle" y="9.9">10</text>
<rect x="-9.5" y="-11.0" width="19.0" height="22.0" fill="#fff" transform="translate(310.5 1489.0) rotate(-10.0)"/>
<text transform="translate(310.5 1489.0) rotate(-10.0)" font-size="30.0" text-anchor="middle" y="9.9">9</text>
<text transform="translate(839.00 1138.50) rotate(-42.00)" x="-7.69" y="9.93" font-size="29.00" font-style="italic">d</text>
<text transform="translate(855.00 1139.00) rotate(-42.00)" x="-4.99" y="2.68" font-size="21.00">p</text>
<line x1="844.0" y1="1164.0" x2="867.4" y2="1142.2" stroke="#000" stroke-width="1.9"/>
<text transform="translate(865.20 1165.50) rotate(-42.00)" x="-5.94" y="3.70" font-size="29.00" font-style="italic">p</text>
<text transform="translate(877.60 1131.60) rotate(-42.00)" x="-8.48" y="9.90" font-size="30.00">=</text>
<text transform="translate(905.00 1106.80) rotate(-42.00)" x="-26.25" y="9.75" font-size="30.00">0.50</text>
<text transform="translate(914.00 1161.90) rotate(-44.00)" x="-26.25" y="9.75" font-size="30.00">0.48</text>
<text x="64.5" y="1196.2" font-size="31.70" letter-spacing="3.79" >1.6</text>
<text x="65.8" y="1257.0" font-size="31.85" letter-spacing="3.56" >1.5</text>
<text x="65.8" y="1323.9" font-size="31.70" letter-spacing="3.25" >1.4</text>
<text x="65.9" y="1391.3" font-size="31.56" letter-spacing="3.73" >1.3</text>
<text x="66.7" y="1453.6" font-size="32.15" letter-spacing="3.64" >1.2</text>
<text x="66.8" y="1521.4" font-size="31.26" letter-spacing="2.31" >1.1</text>
<text x="66.9" y="1584.0" font-size="30.15" letter-spacing="4.52" >1.0</text>
<text x="111.3" y="1614.9" font-size="30.59" letter-spacing="0.34" >0.35</text>
<text x="346.8" y="1608.7" font-size="30.74" letter-spacing="0.89" >0.40</text>
<text x="596.5" y="1612.1" font-size="30.29" letter-spacing="0.84" >0.45</text>
<text x="847.8" y="1614.6" font-size="29.41" letter-spacing="1.16" >0.50</text>
<text x="887.9" y="1227.0" font-size="32.21" letter-spacing="-0.69" >0.46</text>
<text x="887.9" y="1258.3" font-size="32.13" letter-spacing="-0.80" >0.44</text>
<text x="887.9" y="1286.9" font-size="31.47" letter-spacing="-0.19" >0.42</text>
<text x="887.9" y="1324.9" font-size="31.47" letter-spacing="-0.17" >0.40</text>
<text transform="matrix(0 -0.3716 0.2938 0 14.71 1383.24)" font-size="100" font-style="italic">ε</text>
<text transform="matrix(0.3098 0 0 0.3033 415.41 1659.08)" font-size="100" >(</text>
<text transform="matrix(0.3859 0 0 0.2964 439.75 1642.60)" font-size="100" font-style="italic" >h</text>
<text transform="matrix(0.2253 0 0 0.2438 457.31 1646.16)" font-size="100" >a</text>
<text transform="matrix(0.3358 0 0 0.3080 444.52 1670.68)" font-size="100" font-style="italic" >p</text>
<text transform="matrix(0.3077 0 0 0.3067 480.48 1659.16)" font-size="100" >)</text>
<text transform="matrix(0.2320 0 0 0.2604 494.14 1667.54)" font-size="100" >max</text>
<text transform="matrix(0.3448 0 0 0.3529 545.92 1666.31)" font-size="100" >,</text>
<text transform="matrix(0.3294 0 0 0.3033 560.62 1659.08)" font-size="100" >(</text>
<text transform="matrix(0.3929 0 0 0.2878 585.72 1642.80)" font-size="100" font-style="italic" >h</text>
<text transform="matrix(0.2278 0 0 0.2458 603.00 1646.85)" font-size="100" >a</text>
<text transform="matrix(0.3151 0 0 0.3285 593.19 1671.04)" font-size="100" font-style="italic" >p</text>
<text transform="matrix(0.3231 0 0 0.3067 626.13 1659.16)" font-size="100" >)</text>
<line x1="425.2" y1="1650.6" x2="478.6" y2="1650.6" stroke="#000" stroke-width="1.8"/>
<line x1="571.3" y1="1650.6" x2="623.0" y2="1650.6" stroke="#000" stroke-width="1.8"/>
<text transform="matrix(0.3108 0 0 0.2711 511.16 1711.31)" font-size="100" >c)</text>
</svg></body></html>
